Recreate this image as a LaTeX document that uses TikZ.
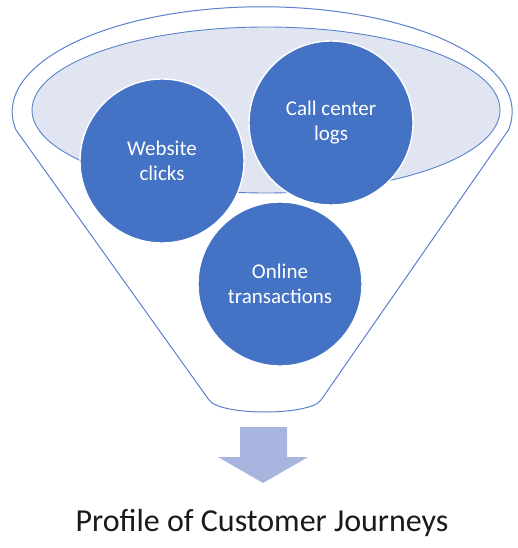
\documentclass[tikz,border=0pt]{standalone}
\usepackage{fontspec}
\setmainfont{Carlito}
\definecolor{accent}{HTML}{4472C4}
\definecolor{funnelline}{HTML}{5A82CC}
\definecolor{bowl}{HTML}{E1E5F2}
\definecolor{arrowfill}{HTML}{A7B5DF}
\definecolor{caption}{HTML}{1A1A1A}
\tikzset{
  x=1pt, y=1pt,
  bubble/.style={circle, fill=accent, draw=white, line width=1.4pt,
    minimum size=164pt, inner sep=0pt, text=white, align=center,
    font=\fontsize{21}{25}\selectfont},
  funnel/.style={draw=funnelline, line width=1pt, fill=white},
}
\begin{document}
\begin{tikzpicture}
\useasboundingbox (0,0) rectangle (517,-548);
% funnel body
\draw[funnel] (209,-400) -- (16,-130)
  arc[start angle=190, end angle=-10, x radius=250, y radius=105]
  -- (321,-400) .. controls (310,-416) and (220,-416) .. cycle;
% inner rim
\draw[draw=funnelline, line width=0.9pt, fill=bowl] (266,-110) ellipse[x radius=234, y radius=83];
% data sources
\node[bubble] (calls) at (331,-123) {Call center\\logs};
\node[bubble] (web) at (162,-161) {Website\\clicks};
\node[bubble] (online) at (280,-284) {Online\\transactions};
% output arrow
\coordinate (tip) at (263,-483);
\fill[arrowfill] (240,-427) -- (287,-427) -- (287,-457) -- (308,-457)
  -- (tip) -- (218,-457) -- (240,-457) -- cycle;
% result
\node[text=caption, font=\fontsize{32}{38}\selectfont, anchor=base] (result) at (262,-531) {Profile of Customer Journeys};
\end{tikzpicture}
\end{document}
